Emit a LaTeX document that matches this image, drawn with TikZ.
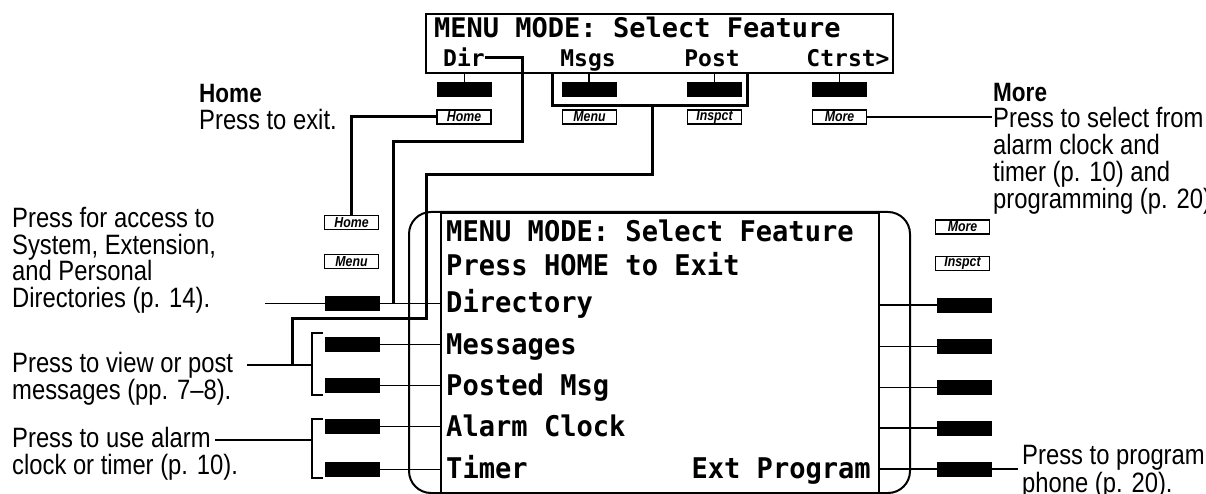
\documentclass[tikz,border=0pt]{standalone}
\usepackage{fontspec}
\setmainfont{Liberation Sans}
\newfontfamily\lcdfont{DejaVu Sans Mono}[FakeStretch=0.95]
\newfontfamily\lcdtopfont{DejaVu Sans Mono}
\newfontfamily\notefont{Liberation Sans}[FakeStretch=0.85]
\begin{document}
\begin{tikzpicture}[x=1pt,y=-1pt,
  key/.style={fill=black, draw=none, minimum width=55pt, minimum height=15pt, inner sep=0pt, outer sep=0pt},
  tag/.style={draw, line width=1.6pt, minimum width=54pt, minimum height=14pt, inner sep=0pt,
    font=\notefont\bfseries\itshape\fontsize{14.5}{14.5}\selectfont},
  lcd/.style={inner sep=0pt, anchor=base west, font=\lcdfont\bfseries\fontsize{28.5}{30}\selectfont},
  lcdtop/.style={inner sep=0pt, anchor=base west, font=\lcdtopfont\bfseries\fontsize{27}{27}\selectfont},
  lcdsub/.style={inner sep=0pt, anchor=base, font=\lcdtopfont\bfseries\fontsize{23}{23}\selectfont},
  note/.style={inner sep=0pt, anchor=base west, align=left, font=\notefont\fontsize{28}{26.5}\selectfont},
  notehead/.style={inner sep=0pt, anchor=base west, font=\notefont\bfseries\fontsize{26.5}{26.5}\selectfont},
  route/.style={line width=3pt},
  brk/.style={line width=2.2pt},
  wire/.style={line width=1.8pt},
  frame/.style={line width=2pt}]
\useasboundingbox (0,0) rectangle (1206,494);

% ---------- top display ----------
\node[draw, frame, minimum width=467pt, minimum height=59pt, anchor=north west, inner sep=0pt] (topbox) at (425,13) {};
\node[lcdtop] (topT) at (434,38) {MENU MODE: Select Feature};
\node[lcdsub] (tDir) at (464,67) {Dir};
\node[lcdsub] (tMsgs) at (588,67) {Msgs};
\node[lcdsub] (tPost) at (712,67) {Post};
\node[lcdsub] (tCtrst) at (848,67) {Ctrst>};

\node[key] (kDir) at (464.5,89.5) {};
\node[key] (kMsgs) at (589,89.5) {};
\node[key] (kPost) at (714.5,89.5) {};
\node[key] (kCtrst) at (839.5,89.5) {};
\foreach \k in {kDir,kMsgs,kPost,kCtrst}
  \draw[wire] (\k.north) -- (\k.north |- topbox.south);

\node[tag] (gHomeT) at (464,117) {Home};
\node[tag] (gMenuT) at (589.5,117) {Menu};
\node[tag] (gInspT) at (714.5,117) {Inspct};
\node[tag] (gMoreT) at (839.5,117) {More};

% ---------- left column ----------
\node[tag] (gHomeL) at (351.5,222.5) {Home};
\node[tag] (gMenuL) at (351.5,261.5) {Menu};
\node[key] (kL1) at (352.5,303.5) {};
\node[key] (kL2) at (352.5,344.5) {};
\node[key] (kL3) at (352.5,385.5) {};
\node[key] (kL4) at (352.5,426.5) {};
\node[key] (kL5) at (352.5,469.5) {};

% ---------- right column ----------
\node[tag] (gMoreR) at (962.5,227) {More};
\node[tag] (gInspR) at (962.5,263.5) {Inspct};
\node[key] (kR1) at (964.5,305) {};
\node[key] (kR2) at (964.5,346.5) {};
\node[key] (kR3) at (964.5,387.5) {};
\node[key] (kR4) at (964.5,428) {};
\node[key] (kR5) at (964.5,469) {};

% ---------- main display ----------
\draw[frame, rounded corners=22pt] (409,212) rectangle (910,493);
\node[draw, frame, anchor=north west, minimum width=438pt, minimum height=281pt, inner sep=0pt] (tbox) at (440,212) {};
\node[lcd] (m1) at (446,241) {MENU MODE: Select Feature};
\node[lcd] (m2) at (446,275) {Press HOME to Exit};
\node[lcd] (m3) at (446,312.5) {Directory};
\node[lcd] (m4) at (446,354) {Messages};
\node[lcd] (m5) at (446,395) {Posted Msg};
\node[lcd] (m6) at (446,436.5) {Alarm Clock};
\node[lcd] (m7) at (446,478) {Timer};
\node[lcd, anchor=base east] (m8) at (871,478) {Ext Program};

\foreach \k in {kL1,kL2,kL3,kL4,kL5}
  \draw[wire] (\k.east) -- (\k.east -| tbox.west);
\foreach \k in {kR1,kR2,kR3,kR4,kR5}
  \draw[wire] (\k.west) -- (\k.west -| tbox.east);

% ---------- notes (base = baseline of last line) ----------
\node[notehead] (homeHead) at (199,103) {Home};
\node[note] (homeBody) at (199,130) {Press to exit.};
\node[note] (dirNote) at (12,307) {Press for access to\\System, Extension,\\and Personal\\Directories (p. 14).};
\node[note] (msgNote) at (12,399) {Press to view or post\\messages (pp. 7–8).};
\node[note] (alarmNote) at (12,474) {Press to use alarm\\clock or timer (p. 10).};
\node[notehead] (moreHead) at (993,102) {More};
\node[note, font=\notefont\fontsize{28}{27.3}\selectfont] (moreBody) at (993,209) {Press to select from\\alarm clock and\\timer (p. 10) and\\programming (p. 20).};
\node[note, font=\notefont\fontsize{28}{21}\selectfont] (progNote) at (1022,492) {Press to program\\phone (p. 20).};

% ---------- connectors ----------
\draw[route] (gHomeT.west) -| (gHomeL.north);
\coordinate (moreEnd) at (992,117);
\draw[wire] (gMoreT.east) -- (moreEnd);

\coordinate (dirA) at (522,142);
\coordinate (dirB) at (393,303.5);
\draw[route] (tDir.east) -| (dirA) -| (dirB);

\draw[route] (552,72) |- (747,106) -- (747,72);
\coordinate (msA) at (652,106);
\coordinate (msB) at (426,175);
\coordinate (msC) at (292,318);
\coordinate (msD) at (292,365);
\draw[route] (msA) |- (msB) |- (msC) -- (msD);

\draw[brk] (323,333) -- (312,333) -- (312,395) -- (323,395);
\draw[brk] (323,419) -- (312,419) -- (312,478) -- (323,478);
\coordinate (msgEnd) at (247,365);
\coordinate (msgBr) at (312,365);
\draw[wire] (msgEnd) -- (msgBr);
\coordinate (alEnd) at (215,440);
\coordinate (alBr) at (312,440);
\draw[wire] (alEnd) -- (alBr);
\coordinate (dirEnd) at (265,303.5);
\draw[wire] (dirEnd) -- (kL1.west);
\coordinate (progEnd) at (1018,469);
\draw[wire] (kR5.east) -- (progEnd);
\end{tikzpicture}
\end{document}
